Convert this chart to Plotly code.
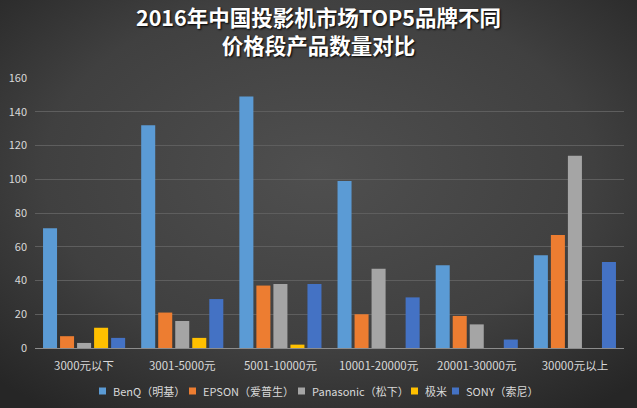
import base64
import plotly.graph_objects as go

categories = ["3000元以下", "3001-5000元", "5001-10000元", "10001-20000元", "20001-30000元", "30000元以上"]
series_names = ["BenQ（明基）", "EPSON（爱普生）", "Panasonic（松下）", "极米", "SONY（索尼）"]
benq = [71, 132, 149, 99, 49, 55]
epson = [7, 21, 37, 20, 19, 67]
panasonic = [3, 16, 38, 47, 14, 114]
jimi = [12, 6, 2, 0, 0, 0]
sony = [6, 29, 38, 30, 5, 51]
colors = ["#5B9BD5", "#ED7D31", "#A5A5A5", "#FFC000", "#4472C4"]
y_ticks = [0, 20, 40, 60, 80, 100, 120, 140, 160]

series_values = [benq, epson, panasonic, jimi, sony]

L, R, T, B = 35, 13, 78, 60
W, H = 637, 408
pw, ph = W - L - R, H - T - B

fig = go.Figure()
for name, vals, col in zip(series_names, series_values, colors):
    fig.add_trace(go.Bar(x=categories, y=vals, name=name, showlegend=False,
                         marker=dict(color=col, line=dict(width=0))))

# custom compact legend (square swatch + real text), positioned in pixels
legend_px = [99, 189, 298, 411, 452]
legend_y = 391
def px_x(p):
    return (p - L) / pw
def px_y(p):
    return (H - B - p) / ph

shapes = []
annotations = []
for name, col, xp in zip(series_names, colors, legend_px):
    shapes.append(dict(type="rect", xref="paper", yref="paper",
                       x0=px_x(xp), x1=px_x(xp + 7), y0=px_y(legend_y + 3.5), y1=px_y(legend_y - 3.5),
                       fillcolor=col, line=dict(width=0)))
    annotations.append(dict(text=name, xref="paper", yref="paper", x=px_x(xp + 12), y=px_y(legend_y),
                            xanchor="left", yanchor="middle", showarrow=False,
                            font=dict(size=11, color="#d9d9d9")))

svg = ('<svg xmlns="http://www.w3.org/2000/svg" width="637" height="408">'
       '<defs><radialGradient id="g" cx="50%" cy="42%" r="72%">'
       '<stop offset="0" stop-color="#4f4f4f"/><stop offset="0.6" stop-color="#404040"/>'
       '<stop offset="1" stop-color="#262626"/></radialGradient></defs>'
       '<rect width="100%" height="100%" fill="url(#g)"/></svg>')
src = "data:image/svg+xml;base64," + base64.b64encode(svg.encode()).decode()

fig.update_layout(
    width=W, height=H,
    margin=dict(l=L, r=R, t=T, b=B, autoexpand=False),
    paper_bgcolor="#3c3c3c",
    plot_bgcolor="rgba(0,0,0,0)",
    images=[dict(source=src, xref="paper", yref="paper", x=-L / pw, y=1 + T / ph,
                 sizex=W / pw, sizey=H / ph, sizing="stretch", layer="below", xanchor="left", yanchor="top")],
    title=dict(text="<b>2016年中国投影机市场TOP5品牌不同<br>价格段产品数量对比</b>",
               x=0.5, xanchor="center", y=0.936, yanchor="top",
               font=dict(family="Noto Sans CJK SC", size=21.5, color="#ffffff", shadow="1px 1px 2px #000000")),
    font=dict(family="Noto Sans CJK SC, DejaVu Sans", color="#d9d9d9", size=11),
    barmode="group",
    bargap=0.133,
    bargroupgap=0.176,
    showlegend=False,
    shapes=shapes,
    annotations=annotations,
    xaxis=dict(showgrid=False, showline=True, linecolor="#8c8c8c", linewidth=1, automargin=False,
               tickfont=dict(size=11.5, color="#d9d9d9"), ticks="", ticklabelstandoff=7),
    yaxis=dict(range=[0, 160], tickvals=y_ticks, showgrid=True, gridcolor="#5e5e5e", gridwidth=1,
               automargin=False, zeroline=False, showline=False,
               tickfont=dict(size=11, color="#d9d9d9"), ticks="", ticklabelstandoff=7),
)

fig.write_html("out.html", config={"displayModeBar": False},
               post_script="document.body.style.margin='0';document.body.style.overflow='hidden';")
